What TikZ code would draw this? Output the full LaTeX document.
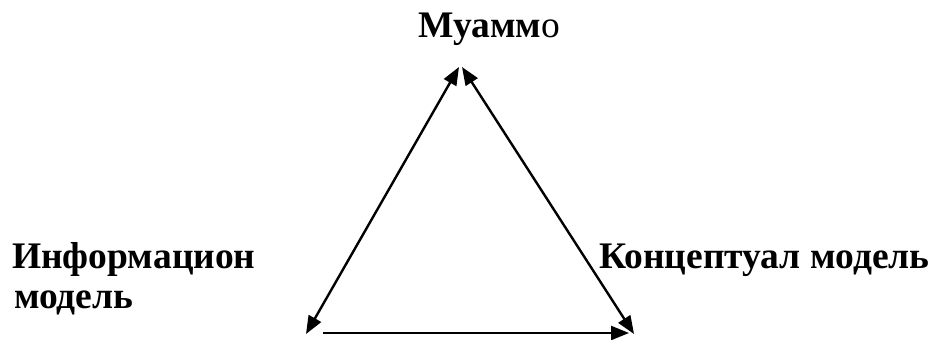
\documentclass[tikz,border=0pt]{standalone}
\usepackage{fontspec}
\setmainfont{Liberation Serif}
\usetikzlibrary{arrows.meta}
\begin{document}
\begin{tikzpicture}[x=1pt,y=-1pt,
  lbl/.style={font=\fontsize{37.5}{40}\selectfont\bfseries, inner sep=0pt, anchor=base west},
  tip/.style={},
  conn/.style={line width=2.4pt, -{Triangle[length=18pt,width=14pt]}},
  conn2/.style={line width=2.4pt, {Triangle[length=18pt,width=14pt]}-{Triangle[length=18pt,width=14pt]}}]
\useasboundingbox (0,0) rectangle (929,340);
\node[lbl] (top) at (418,37) {Муамм\mdseries о};
\node[lbl] (left1) at (12,268) {Информацион};
\node[lbl] (left2) at (14,308) {модель};
\node[lbl] (right) at (599,268) {Концептуал модель};
\coordinate (a1) at (459,67);
\coordinate (a2) at (462,67);
\coordinate (bl) at (306,334);
\coordinate (br) at (634,334);
\coordinate (bs) at (323,333);
\coordinate (be) at (629,333);
\draw[conn2] (a1) -- (bl);
\draw[conn2] (a2) -- (br);
\draw[conn] (bs) -- (be);
\end{tikzpicture}
\end{document}
